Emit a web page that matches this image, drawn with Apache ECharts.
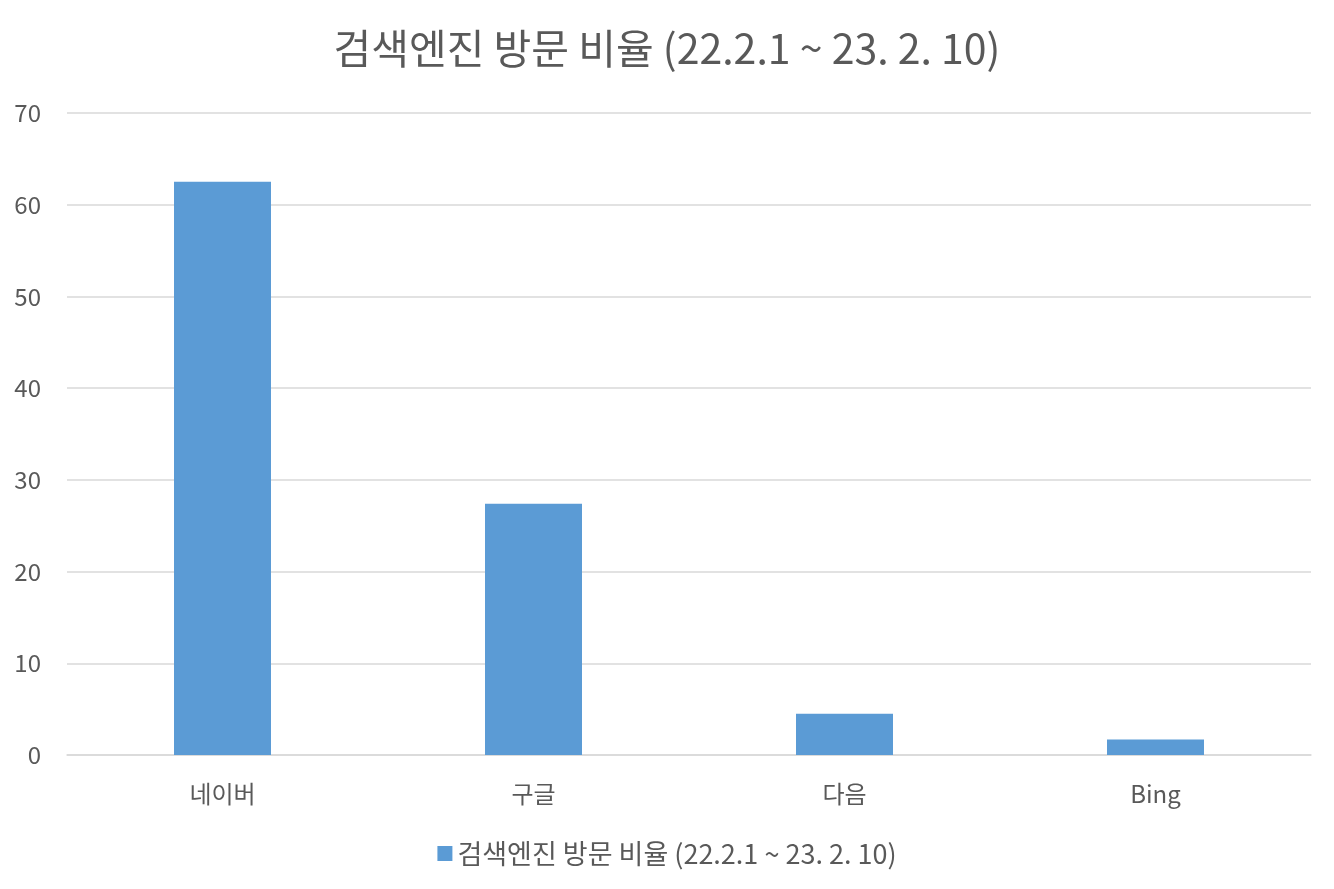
<!DOCTYPE html>
<html><head><meta charset="utf-8">
<script src="https://cdn.jsdelivr.net/npm/echarts@6/dist/echarts.min.js"></script>
<style>html,body{margin:0;padding:0;background:#fff}#c{width:1334px;height:889px}</style>
</head><body><div id="c"></div>
<script>
const titleText = '검색엔진 방문 비율 (22.2.1 ~ 23. 2. 10)';
const categories = ['네이버', '구글', '다음', 'Bing'];
const values = [62.5, 27.4, 4.5, 1.7];
const yTicks = { min: 0, max: 70, interval: 10 };

const FONT = '"Noto Sans CJK KR", "Noto Sans", sans-serif';
const chart = echarts.init(document.getElementById('c'));
chart.setOption({
  animation: false,
  textStyle: { fontFamily: FONT },
  title: {
    text: titleText, left: 'center', top: 23,
    textStyle: { fontFamily: FONT, fontSize: 41, fontWeight: 'normal', color: '#595959' }
  },
  legend: {
    bottom: 17, left: 'center', itemWidth: 15, itemHeight: 15, itemGap: 6,
    icon: 'rect',
    textStyle: { fontFamily: FONT, fontSize: 27, color: '#595959' }
  },
  grid: { left: 67, right: 23, top: 113, bottom: 134, containLabel: false },
  xAxis: {
    type: 'category', data: categories,
    axisLine: { show: true, lineStyle: { color: '#D9D9D9', width: 1.5 } },
    axisTick: { show: false },
    axisLabel: { fontFamily: FONT, fontSize: 24, color: '#595959', margin: 27 }
  },
  yAxis: {
    type: 'value', min: yTicks.min, max: yTicks.max, interval: yTicks.interval,
    axisLine: { show: false }, axisTick: { show: false },
    splitLine: { lineStyle: { color: '#D9D9D9', width: 1.5 } },
    axisLabel: { fontFamily: FONT, fontSize: 24, color: '#595959', margin: 26 }
  },
  series: [{
    name: titleText, type: 'bar', data: values, barWidth: 97,
    itemStyle: { color: '#5B9BD5' }
  }]
});
</script></body></html>
